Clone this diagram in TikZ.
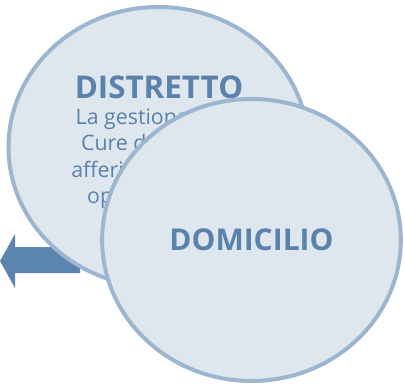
\documentclass[tikz,border=0pt]{standalone}
\usepackage{fontspec}
\setmainfont{Open Sans}
\usetikzlibrary{shapes.geometric,positioning}
\definecolor{cerchiofill}{HTML}{DEE6EE}
\definecolor{cerchiobordo}{HTML}{9DB6CF}
\definecolor{testoblu}{HTML}{5B82AB}
\definecolor{frecciablu}{HTML}{5B84AE}

\begin{document}
\begin{tikzpicture}[x=0.75pt, y=-0.75pt,
    cerchio/.style={ellipse, draw=cerchiobordo, fill=cerchiofill, line width=3pt,
        inner sep=0pt, text=testoblu},
    titolo/.style={text=testoblu, font=\fontsize{23.5}{28}\selectfont\bfseries, inner sep=0pt},
    corpo/.style={text=testoblu, font=\fontsize{16}{19.8}\selectfont, align=center, inner sep=0pt}]
    \useasboundingbox (0,0) rectangle (404,385);

    % freccia dietro ai cerchi
    \fill[frecciablu] (0,261) -- (15,234) -- (15,247) -- (80,247) -- (80,273)
        -- (15,273) -- (15,288) -- cycle;

    \node[cerchio, minimum width=225pt, minimum height=210pt] (distretto) at (158.5,147) {};
    \node[titolo] (distretto-titolo) at (159,87) {DISTRETTO};
    \node[corpo, below=7pt of distretto-titolo] (distretto-testo)
        {La gestione delle\\Cure domiciliari\\afferisce ai servizi\\operativi locali};

    \node[cerchio, minimum width=224pt, minimum height=211.5pt,
        font=\fontsize{22.5}{28}\selectfont\bfseries] (domicilio) at (251.5,240) {DOMICILIO};
\end{tikzpicture}
\end{document}
